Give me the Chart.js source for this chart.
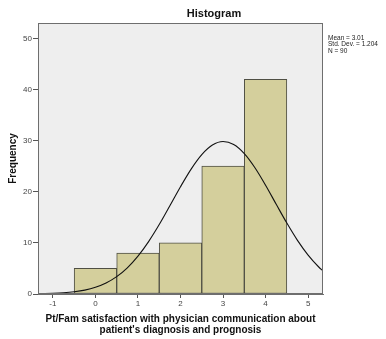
<!DOCTYPE html>
<html>
<head>
<meta charset="utf-8">
<script src="https://cdn.jsdelivr.net/npm/chart.js@4/dist/chart.umd.min.js"></script>
<style>
  html, body { margin: 0; padding: 0; background: #ffffff; }
  #wrap { width: 386px; height: 339px; }
</style>
</head>
<body>
<div id="wrap"><canvas id="c" width="386" height="339"></canvas></div>
<script>
// Histogram bins (centre of each unit-wide bin) and their counts
const binCenters = [0, 1, 2, 3, 4];
const frequencies = [5, 8, 10, 25, 42];

// Axis tick positions
const xTickValues = [-1, 0, 1, 2, 3, 4, 5];
const yTickValues = [0, 10, 20, 30, 40, 50];

// Fitted normal curve, sampled along the x axis
const curveX = [-1.35, -1.25, -1.0, -0.75, -0.5, -0.25, 0, 0.25, 0.5, 0.75, 1.0, 1.25, 1.5, 1.75,
                2.0, 2.25, 2.5, 2.75, 3.0, 3.25, 3.5, 3.75, 4.0, 4.25, 4.5, 4.75, 5.0, 5.25, 5.35];
const curveY = [0.04, 0.06, 0.12, 0.23, 0.43, 0.76, 1.31, 2.15, 3.39, 5.12, 7.40, 10.25, 13.58, 17.25,
                20.98, 24.43, 27.26, 29.13, 29.82, 29.23, 27.45, 24.69, 21.27, 17.55, 13.87, 10.49, 7.61, 5.28, 4.51];

// Text
const chartTitle = 'Histogram';
const xAxisTitle = ['Pt/Fam satisfaction with physician communication about', "patient's diagnosis and prognosis"];
const yAxisTitle = 'Frequency';
const statsLines = ['Mean = 3.01', 'Std. Dev. = 1.204', 'N = 90'];

const FONT = "'Liberation Sans', Arial, sans-serif";

const frameAndText = {
  id: 'frameAndText',
  beforeDatasetsDraw(chart) {
    const { ctx, chartArea: a } = chart;
    ctx.save();
    ctx.fillStyle = '#eeeeee';
    ctx.fillRect(a.left, a.top, a.right - a.left, a.bottom - a.top);
    ctx.restore();
  },
  afterDraw(chart) {
    const { ctx, chartArea: a } = chart;
    ctx.save();
    ctx.strokeStyle = '#6e6e6e';
    ctx.lineWidth = 1;
    ctx.strokeRect(Math.round(a.left) + 0.5, Math.round(a.top) + 0.5,
                   Math.round(a.right - a.left) - 1, Math.round(a.bottom - a.top) - 1);

    ctx.fillStyle = '#111111';
    ctx.textAlign = 'center';
    ctx.textBaseline = 'middle';
    ctx.font = 'bold 11px ' + FONT;
    ctx.fillText(chartTitle, 214, 14);

    ctx.textAlign = 'left';
    ctx.fillStyle = '#222222';
    ctx.font = '6.5px ' + FONT;
    statsLines.forEach((t, i) => ctx.fillText(t, 328, 38 + i * 6.5));
    ctx.restore();
  }
};

new Chart(document.getElementById('c'), {
  data: {
    datasets: [
      {
        type: 'line',
        data: curveX.map((x, i) => ({ x: x, y: curveY[i] })),
        borderColor: '#111111',
        borderWidth: 1.1,
        pointRadius: 0,
        fill: false,
        cubicInterpolationMode: 'monotone',
        order: 0
      },
      {
        type: 'bar',
        data: binCenters.map((x, i) => ({ x: x, y: frequencies[i] })),
        backgroundColor: '#d4cf9c',
        borderColor: '#4f4f44',
        borderWidth: 1,
        borderSkipped: false,
        barPercentage: 1,
        categoryPercentage: 1,
        grouped: false,
        order: 1
      }
    ]
  },
  options: {
    responsive: false,
    devicePixelRatio: 1,
    animation: false,
    layout: { padding: { top: 23, right: 63, left: 0, bottom: 0 } },
    plugins: { legend: { display: false }, tooltip: { enabled: false }, title: { display: false } },
    scales: {
      x: {
        type: 'linear',
        offset: false,
        min: -1.35,
        max: 5.35,
        afterBuildTicks(scale) { scale.ticks = xTickValues.map(v => ({ value: v })); },
        afterFit(scale) { scale.height = 45; },
        grid: { offset: false, drawOnChartArea: false, drawTicks: true, tickLength: 4, color: '#555555' },
        border: { display: true, color: '#6e6e6e' },
        ticks: { font: { family: FONT, size: 8 }, color: '#444444', padding: 1, maxRotation: 0 },
        title: {
          display: true,
          text: xAxisTitle,
          font: { family: FONT, size: 10, weight: 'bold', lineHeight: 1.1 },
          color: '#111111',
          padding: { top: 2, bottom: 3.5 }
        }
      },
      y: {
        min: 0,
        max: 53,
        afterBuildTicks(scale) { scale.ticks = yTickValues.map(v => ({ value: v })); },
        afterFit(scale) { scale.width = 38; },
        grid: { drawOnChartArea: false, drawTicks: true, tickLength: 5, color: '#555555' },
        border: { display: true, color: '#6e6e6e' },
        ticks: { font: { family: FONT, size: 8 }, color: '#444444', padding: 1 },
        title: {
          display: true,
          text: yAxisTitle,
          font: { family: FONT, size: 10, weight: 'bold', lineHeight: 1.2 },
          color: '#111111',
          padding: { top: 7, bottom: 0 }
        }
      }
    }
  },
  plugins: [frameAndText]
});
</script>
</body>
</html>
